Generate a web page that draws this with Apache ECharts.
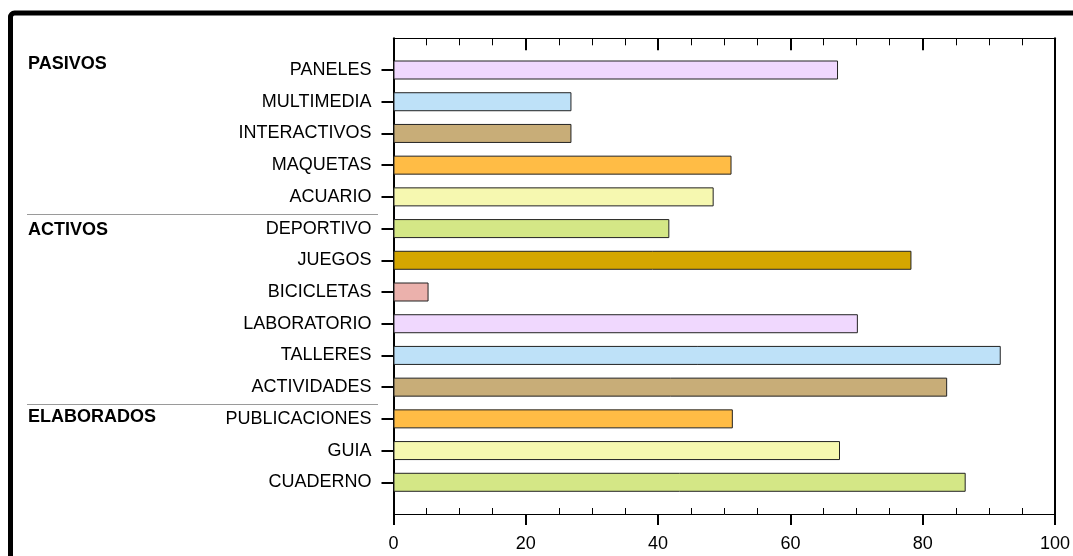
<!DOCTYPE html>
<html>
<head>
<meta charset="utf-8">
<script src="https://cdn.jsdelivr.net/npm/echarts@6/dist/echarts.min.js"></script>
<style>
html,body{margin:0;padding:0;background:#fff;}
#chart{width:1073px;height:556px;}
</style>
</head>
<body>
<div id="chart"></div>
<script>
var categories = ['PANELES','MULTIMEDIA','INTERACTIVOS','MAQUETAS','ACUARIO','DEPORTIVO','JUEGOS','BICICLETAS','LABORATORIO','TALLERES','ACTIVIDADES','PUBLICACIONES','GUIA','CUADERNO'];
var values = [67.2, 26.9, 26.9, 51.1, 48.4, 41.7, 78.3, 5.3, 70.2, 91.8, 83.7, 51.3, 67.5, 86.5];
var barColors = ['#F0D8FE','#BEE1F8','#C8AD78','#FFBC45','#F6F8B0','#D4E786','#D4A600','#EBB1AC','#F0D8FE','#BEE1F8','#C8AD78','#FFBC45','#F6F8B0','#D4E786'];
var groups = ['PASIVOS','ACTIVOS','ELABORADOS'];
var groupFirst = ['PANELES','DEPORTIVO','PUBLICACIONES'];
var xTicks = [0, 20, 40, 60, 80, 100];

var FONT = '"Liberation Sans", Arial, Helvetica, sans-serif';
var FS = 18;
var axisCats = [''].concat(categories).concat(['']);
var barData = [null].concat(values.map(function (v, i) {
  return { value: v, itemStyle: { color: barColors[i] } };
})).concat([null]);

var chart = echarts.init(document.getElementById('chart'), null, { renderer: 'canvas' });

var xMin = xTicks[0], xMax = xTicks[xTicks.length - 1];
var option = {
  backgroundColor: '#fff',
  animation: false,
  grid: { left: 393.5, right: 17, top: 38.3, bottom: 42, containLabel: false },
  xAxis: [
    {
      type: 'value', position: 'bottom', min: xMin, max: xMax, interval: 20,
      axisLine: { show: true, lineStyle: { color: '#000', width: 1 } },
      axisTick: { show: true, inside: false, length: 11, lineStyle: { color: '#000', width: 2 } },
      minorTick: { show: false },
      splitLine: { show: false }, minorSplitLine: { show: false },
      axisLabel: { show: true, margin: 21.5, fontSize: FS, color: '#000', fontFamily: FONT }
    },
    {
      type: 'value', position: 'top', min: xMin, max: xMax, interval: 20,
      axisLine: { show: true, lineStyle: { color: '#000', width: 1 } },
      axisTick: { show: true, inside: true, length: 12, lineStyle: { color: '#000', width: 2 } },
      minorTick: { show: true, splitNumber: 4, length: 7, lineStyle: { color: '#000', width: 1 } },
      splitLine: { show: false }, minorSplitLine: { show: false },
      axisLabel: { show: false }
    },
    {
      type: 'value', position: 'bottom', min: xMin, max: xMax, interval: 20,
      axisLine: { show: false },
      axisTick: { show: false, inside: true },
      minorTick: { show: true, splitNumber: 4, length: 6, lineStyle: { color: '#000', width: 1 } },
      splitLine: { show: false }, minorSplitLine: { show: false },
      axisLabel: { show: false }
    }
  ],
  yAxis: [
    {
      type: 'category', position: 'left', data: axisCats, inverse: true, boundaryGap: false,
      axisLine: { show: true, onZero: false, lineStyle: { color: '#000', width: 2 } },
      axisTick: { show: true, length: 12, interval: function (i, v) { return v !== ''; }, lineStyle: { color: '#000', width: 2 } },
      axisLabel: { show: true, interval: 0, margin: 22, fontSize: FS, color: '#000', fontFamily: FONT },
      splitLine: { show: false }
    },
    {
      type: 'category', position: 'right', data: axisCats, inverse: true, boundaryGap: false,
      axisLine: { show: true, onZero: false, lineStyle: { color: '#000', width: 2 } },
      axisTick: { show: false }, axisLabel: { show: false }, splitLine: { show: false }
    }
  ],
  series: [
    {
      type: 'bar', xAxisIndex: 0, yAxisIndex: 0, data: barData, barWidth: 19,
      itemStyle: { borderColor: '#222', borderWidth: 1 },
      silent: true
    }
  ]
};
chart.setOption(option);

// annotations: group labels and separators positioned from the category axis
function yOf(name) { return chart.convertToPixel({ yAxisIndex: 0 }, name); }
var graphics = [
  { type: 'rect', shape: { x: 10.5, y: 13, width: 1120, height: 620, r: 4 },
    style: { fill: 'none', stroke: '#000', lineWidth: 5 }, z: 100 }
];
var offsets = [-5, 2, -1];
groups.forEach(function (g, k) {
  var cy = yOf(groupFirst[k]);
  graphics.push({ type: 'text', left: 28, top: cy + offsets[k] - 9.5,
    style: { text: g, font: 'bold ' + FS + 'px ' + FONT, fill: '#000' }, z: 100 });
  if (k > 0) {
    var idx = categories.indexOf(groupFirst[k]);
    var prev = yOf(categories[idx - 1]);
    var ly = Math.round((prev + cy) / 2 + 1) + 0.5;
    graphics.push({ type: 'line', shape: { x1: 27, y1: ly, x2: 378, y2: ly },
      style: { stroke: '#9a9a9a', lineWidth: 1 }, z: 100 });
  }
});
chart.setOption({ graphic: graphics });
</script>
</body>
</html>
